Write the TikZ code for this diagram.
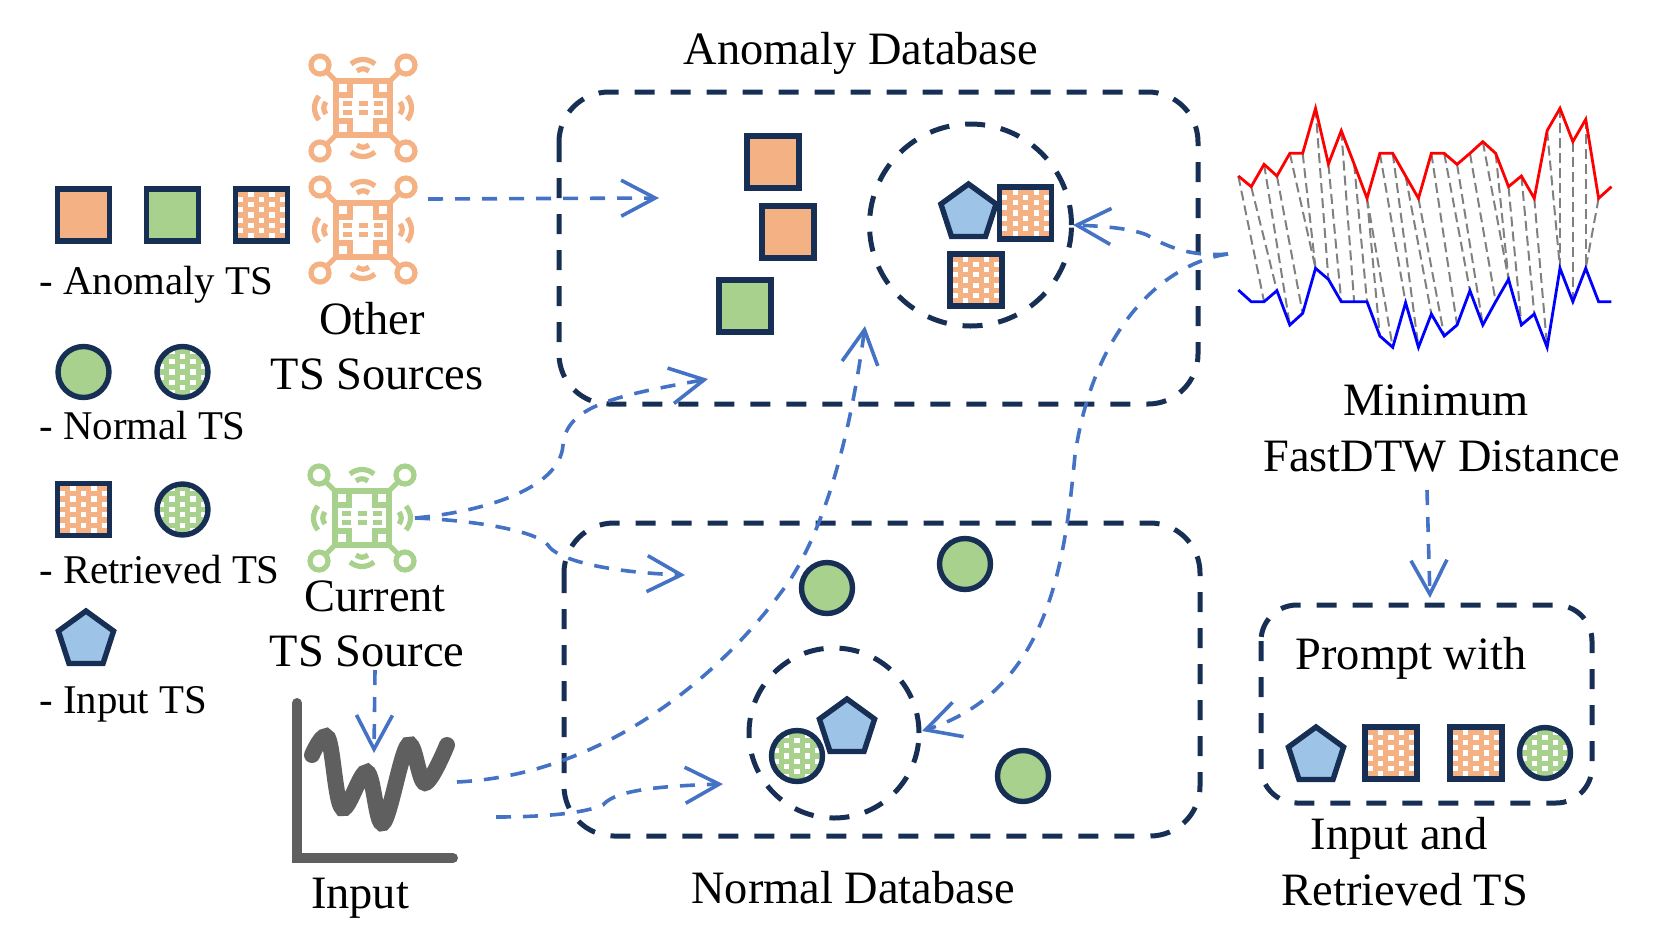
\documentclass[tikz,border=0pt]{standalone}
\usepackage{fontspec}
\setmainfont{Liberation Serif}
\usetikzlibrary{arrows.meta, positioning, shapes.geometric}
\definecolor{navy}{HTML}{172F55}
\definecolor{tsorange}{HTML}{F4B183}
\definecolor{tsgreen}{HTML}{A9D18E}
\definecolor{tsblue}{HTML}{9DC3E6}
\definecolor{flow}{HTML}{4472C4}
\definecolor{chartgray}{HTML}{5F5F5F}
\tikzset{
  tslabel/.style={font=\fontsize{23.2}{27}\selectfont,inner sep=0pt,anchor=base},
  legend/.style={font=\fontsize{20.4}{24}\selectfont,inner sep=0pt,anchor=base west},
  sqbox/.style={rectangle,draw=navy,line width=2.7pt,minimum size=26pt,inner sep=0pt},
  cir/.style={circle,draw=navy,line width=2.7pt,minimum size=25.5pt,inner sep=0pt},
  penta/.style={regular polygon,regular polygon sides=5,draw=navy,fill=tsblue,line width=2.7pt,minimum size=29pt,inner sep=0pt},
  dotfill/.style={path picture={
    \foreach \i in {-3,...,3}
      \foreach \j in {-3,...,3}
        \fill[white] ([xshift={\i*5.25pt-1.3pt},yshift={\j*5.25pt+mod(\i+3,2)*2.6pt-1.3pt}]path picture bounding box.center) rectangle +(2.6pt,2.6pt);
  }},
  dbbox/.style={draw=navy,line width=2.5pt,rounded corners=25pt,dash pattern=on 10pt off 8pt},
  dbring/.style={circle,draw=navy,line width=2.5pt,dash pattern=on 10pt off 8pt,inner sep=0pt},
  line/.style={flow,line width=1.8pt,dash pattern=on 7.5pt off 6pt,-{Straight Barb[length=17pt,width=18pt]}},
  pics/sensor/.style={code={
    \begin{scope}[draw=#1,line width=2.6pt]
    \draw (-27,-27) rectangle (27,27);
    \foreach \r in {0,90,180,270} {
      \begin{scope}[rotate=\r]
      \draw (-43,-43) circle (9);
      \draw (-37,-37) -- (-27,-27);
      \draw (-13,-27) -- (-13,-13) -- (-27,-13);
      \draw (-12,-44) .. controls (-5,-50) and (5,-50) .. (12,-44);
      \draw (-6,-37) .. controls (-2,-40) and (2,-40) .. (6,-37);
      \end{scope}
    }
    \foreach \row in {-4.5,4.5} {
      \draw (-20,\row) -- (-11,\row);
      \draw (-4,\row) -- (5,\row);
      \draw (11,\row) -- (20,\row);
    }
    \end{scope}
  }}
}

\begin{document}
\begin{tikzpicture}[x=0.5pt,y=-0.5pt]
\useasboundingbox (0,0) rectangle (1661,949);

% legend
\node[sqbox, fill=tsorange] (legA) at (83.5,215) {};
\node[sqbox, fill=tsgreen] (legB) at (172.5,215) {};
\node[sqbox, fill=tsorange, dotfill] (legC) at (261.5,215) {};
\node[legend] (legAtxt) at (39,294) {- Anomaly TS};
\node[cir, fill=tsgreen] (legD) at (83.5,372) {};
\node[cir, fill=tsgreen, dotfill] (legE) at (182.5,372) {};
\node[legend] (legNtxt) at (39,439) {- Normal TS};
\node[sqbox, fill=tsorange, dotfill] (legF) at (83.5,509.5) {};
\node[cir, fill=tsgreen, dotfill] (legG) at (182.5,509.5) {};
\node[legend] (legRtxt) at (39,583) {- Retrieved TS};
\node[penta] (legH) at (86,640) {};
\node[legend] (legItxt) at (39,713) {- Input TS};

% sources
\pic at (363,108) {sensor=tsorange};
\pic at (363,230) {sensor=tsorange};
\pic at (362,518) {sensor=tsgreen};
\node[tslabel] (other) at (372,334) {Other};
\node[tslabel] (others) at (377,389) {TS Sources};
\node[tslabel] (current) at (375,611) {Current};
\node[tslabel] (currents) at (367,666) {TS Source};

% input chart
\draw[chartgray,line width=5pt,line cap=round,line join=miter] (297,703) -- (297,858) -- (453,858);
\draw[chartgray,line width=8pt,line cap=round] plot[smooth,tension=0.6] coordinates {(312,755) (328,738) (342,808) (367,772) (383,823) (408,745) (425,783) (447,745)};
\node[tslabel] (input) at (360,908) {Input};

% anomaly database
\node[tslabel] (anomtxt) at (861,64) {Anomaly Database};
\draw[dbbox] (559,92) rectangle (1198,404);
\node[sqbox, fill=tsorange] (a1) at (773,162) {};
\node[sqbox, fill=tsorange] (a2) at (788,232) {};
\node[sqbox, fill=tsgreen] (a3) at (745,306) {};
\node[dbring, minimum size=101pt] (aring) at (970.5,225) {};
\node[penta] (apen) at (968.5,213) {};
\node[sqbox, fill=tsorange, dotfill] (a4) at (1025.7,213) {};
\node[sqbox, fill=tsorange, dotfill] (a5) at (976,280) {};

% normal database
\node[tslabel] (normtxt) at (853,903) {Normal Database};
\draw[dbbox] (564,523) rectangle (1200,836);
\node[cir, fill=tsgreen] (n1) at (827,588) {};
\node[cir, fill=tsgreen] (n2) at (965,564) {};
\node[cir, fill=tsgreen] (n3) at (1023,776) {};
\node[dbring, minimum size=85pt] (nring) at (834,733) {};
\node[penta] (npen) at (847,728) {};
\node[cir, fill=tsgreen, dotfill] (n4) at (797,756) {};

% fastdtw series
\foreach \i/\y in {0/258,1/290,2/223,3/258,4/190,5/190,6/55,7/222,8/122,9/222,10/325,11/190,12/190,13/258,14/325,15/190,16/190,17/223,18/190,19/155,20/190,21/290,22/258,23/325,24/122,25/55,26/155,27/88,28/325,29/290}
  \coordinate (r\i) at ({1220+(55+38.6*\i)/3},{90+\y/3});
\foreach \i/\y in {0/600,1/635,2/635,3/602,4/705,5/670,6/535,7/568,8/635,9/635,10/635,11/738,12/772,13/638,14/772,15/672,16/738,17/705,18/602,19/705,20/635,21/568,22/705,23/672,24/772,25/535,26/635,27/535,28/635,29/635}
  \coordinate (b\i) at ({1220+(55+38.6*\i)/3},{90+\y/3});
\foreach \p/\q in {0/2,1/3,2/4,3/5,4/6,5/6,6/7,7/8,8/9,9/10,10/11,10/12,11/13,12/14,13/15,14/16,15/17,16/18,17/19,18/20,19/21,20/21,21/22,22/23,23/24,24/25,25/25,26/26,27/27,28/27}
  \draw[gray,line width=1pt,dash pattern=on 5pt off 2.5pt] (r\p) -- (b\q);
\draw[red,line width=1.4pt] (r0) \foreach \i in {1,...,29}{ -- (r\i)};
\draw[blue,line width=1.4pt] (b0) \foreach \i in {1,...,29}{ -- (b\i)};
\node[tslabel] (mintxt) at (1436,415) {Minimum};
\node[tslabel] (dtwtxt) at (1442,471) {FastDTW Distance};

% prompt
\draw[dbbox,rounded corners=18pt] (1261,605) rectangle (1592,803);
\node[tslabel] (prompttxt) at (1411,669) {Prompt with};
\node[penta] (p1) at (1316,756) {};
\node[sqbox, fill=tsorange, dotfill] (p2) at (1391,753) {};
\node[sqbox, fill=tsorange, dotfill] (p3) at (1476,753) {};
\node[cir, fill=tsgreen, dotfill] (p4) at (1545,753) {};
\node[tslabel] (inputand) at (1399,849) {Input and};
\node[tslabel] (retrieved) at (1405,905) {Retrieved TS};

% connectors
\coordinate (otherout) at (428,199);
\coordinate (anomin) at (659,198);
\coordinate (curout) at (415,518);
\coordinate (anomin2) at (708,379);
\coordinate (normin) at (685,575);
\coordinate (inout) at (457,782);
\coordinate (aringin) at (865,326);
\coordinate (inout2) at (496,817);
\coordinate (nringin) at (723,784);
\coordinate (dtwout) at (1228,254);
\coordinate (aringin2) at (1073,225);
\coordinate (nringin2) at (922,731);
\coordinate (srcdown) at (375,670);
\coordinate (chartin) at (374,753);
\coordinate (dtwdown) at (1427,490);
\coordinate (promptin) at (1430,598);
\draw[line] (otherout) -- (anomin);
\draw[line] (curout) .. controls (480,512) and (560,490) .. (563,445) .. controls (566,405) and (620,395) .. (anomin2);
\draw[line] (curout) .. controls (470,520) and (535,530) .. (548,545) .. controls (555,558) and (600,572) .. (normin);
\draw[line] (inout) .. controls (600,775) and (720,680) .. (790,580) .. controls (835,510) and (855,400) .. (aringin);
\draw[line] (inout2) .. controls (530,817) and (580,815) .. (603,805) .. controls (615,790) and (660,786) .. (nringin);
\draw[line] (dtwout) .. controls (1200,256) and (1175,252) .. (1147,235) .. controls (1130,228) and (1100,226) .. (aringin2);
\draw[line] (dtwout) .. controls (1170,262) and (1095,320) .. (1075,455) .. controls (1065,560) and (1050,690) .. (nringin2);
\draw[line] (srcdown) -- (chartin);
\draw[line] (dtwdown) -- (promptin);
\end{tikzpicture}
\end{document}
